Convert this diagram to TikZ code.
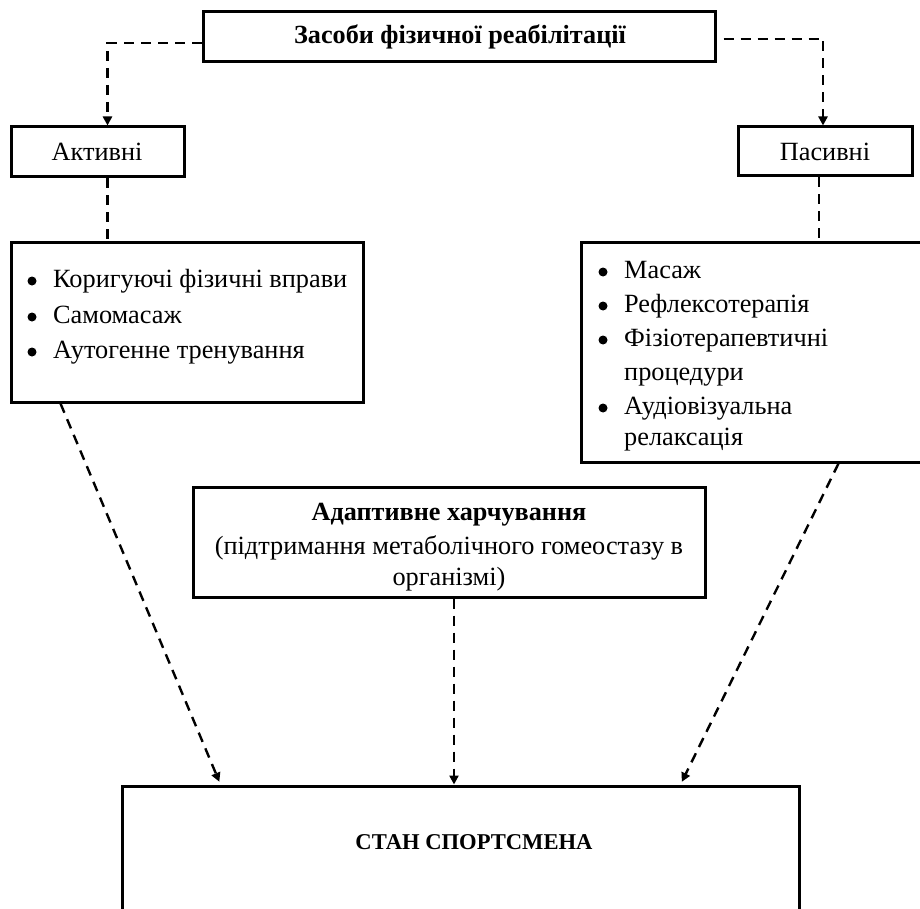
\documentclass[tikz,border=0pt]{standalone}
\usepackage{fontspec}
\setmainfont{Liberation Serif}
\usetikzlibrary{arrows.meta,calc}
\begin{document}
\begin{tikzpicture}[x=1pt,y=-1pt,
  box/.style={draw,line width=3pt,rectangle,inner sep=0pt},
  txt/.style={inner sep=0pt,font=\fontsize{26.3}{30}\selectfont},
  btxt/.style={inner sep=0pt,font=\fontsize{26.2}{30}\selectfont\bfseries},
  stxt/.style={inner sep=0pt,font=\fontsize{22.6}{26}\selectfont\bfseries},
  dot/.style={circle,fill,inner sep=0pt,minimum size=9pt},
  conn/.style={line width=2.4pt,dash pattern=on 10pt off 7pt},
  arr/.style={conn,-{Triangle[width=9pt,length=9pt]}}]
\clip (0,0) rectangle (920,909);
\fill[white] (0,0) rectangle (920,909);
% boxes
\node[box,minimum width=512pt,minimum height=50pt] (top) at (459,37) {};
\node[box,minimum width=173pt,minimum height=50pt] (act) at (97.5,152) {};
\node[box,minimum width=174pt,minimum height=49pt] (pas) at (825,151.5) {};
\node[box,minimum width=352pt,minimum height=159pt] (lbox) at (187,322.5) {};
\node[box,minimum width=380pt,minimum height=219pt] (rbox) at (771,352.5) {};
\node[box,minimum width=512pt,minimum height=110pt] (adapt) at (449,542) {};
\node[box,minimum width=677pt,minimum height=160pt] (state) at (460.5,866) {};
% texts
\node[btxt] (toptext) at (460,37) {Засоби фізичної реабілітації};
\node[txt] (acttext) at (97,152) {Активні};
\node[txt] (pastext) at (825,152) {Пасивні};
\node[dot] (lb1) at (32,281) {};
\node[txt,anchor=mid west] (lt1) at (53,285) {Коригуючі фізичні вправи};
\node[dot] (lb2) at (32,317) {};
\node[txt,anchor=mid west] (lt2) at (53,321) {Самомасаж};
\node[dot] (lb3) at (32,352) {};
\node[txt,anchor=mid west] (lt3) at (53,356) {Аутогенне тренування};
\node[dot] (rb1) at (603,272) {};
\node[txt,anchor=mid west] (rt1) at (624,276) {Масаж};
\node[dot] (rb2) at (603,306) {};
\node[txt,anchor=mid west] (rt2) at (624,310) {Рефлексотерапія};
\node[dot] (rb3) at (603,340) {};
\node[txt,anchor=mid west] (rt3) at (624,344) {Фізіотерапевтичні};
\node[txt,anchor=mid west] (rt4) at (624,378) {процедури};
\node[dot] (rb5) at (603,408) {};
\node[txt,anchor=mid west] (rt5) at (624,412) {Аудіовізуальна};
\node[txt,anchor=mid west] (rt6) at (624,443) {релаксація};
\node[btxt,anchor=mid] (ad1) at (449,518) {Адаптивне харчування};
\node[txt,anchor=mid] (ad2) at (449,552) {(підтримання метаболічного гомеостазу в};
\node[txt,anchor=mid] (ad3) at (449,583) {організмі)};
\node[stxt,anchor=mid] (sttext) at (474,847) {СТАН СПОРТСМЕНА};
% connectors
\draw[arr] ([yshift=-6pt]top.west) -| ([xshift=10pt]act.north);
\draw[arr] ([xshift=7pt,yshift=-2pt]top.east) -| ([xshift=-2pt]pas.north);
\draw[conn] ([xshift=10pt]act.south) -- ([xshift=10pt]act.south |- lbox.north);
\draw[conn] ([xshift=-6pt]pas.south) -- ([xshift=-6pt]pas.south |- rbox.north);
\draw[arr,shorten >=3pt] ([xshift=51pt]lbox.south west) -- ([xshift=100pt]state.north west);
\draw[arr] ([xshift=5pt]adapt.south) -- ([xshift=5pt]adapt.south |- state.north);
\draw[arr,shorten >=3pt] ([xshift=259pt]rbox.south west) -- ([xshift=-120pt]state.north east);
\end{tikzpicture}
\end{document}
